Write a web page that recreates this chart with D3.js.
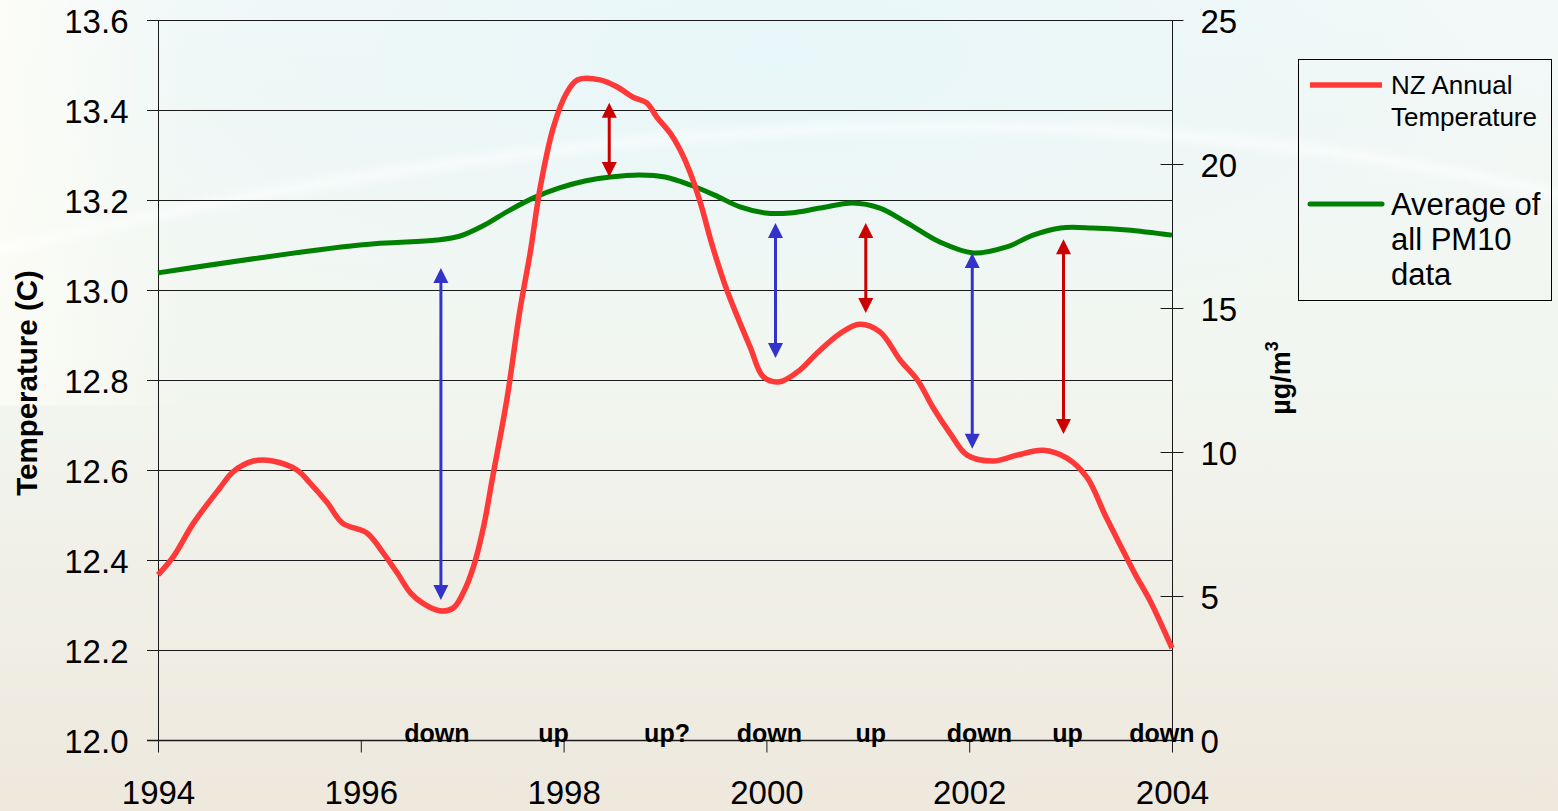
<!DOCTYPE html>
<html>
<head>
<meta charset="utf-8">
<script src="https://cdn.jsdelivr.net/npm/d3@7/dist/d3.min.js"></script>
<style>
  html, body { margin: 0; padding: 0; overflow: hidden; }
  svg { display: block; }
  text { font-family: "Liberation Sans", Arial, sans-serif; fill: #000; }
</style>
</head>
<body>
<svg id="chart" width="1558" height="811"></svg>
<script>
// NZ annual temperature (smoothed) against the average of all PM10 data
const tempYears = [1994.00, 1994.15, 1994.35, 1994.61, 1994.74, 1994.94, 1995.13, 1995.37, 1995.50, 1995.67,
  1995.82, 1996.06, 1996.22, 1996.36, 1996.49, 1996.61, 1996.78, 1996.91, 1997.01, 1997.11,
  1997.21, 1997.30, 1997.44, 1997.57, 1997.67, 1997.77, 1997.90, 1998.03, 1998.14, 1998.36,
  1998.53, 1998.68, 1998.82, 1998.92, 1999.05, 1999.15, 1999.25, 1999.35, 1999.47, 1999.61,
  1999.84, 1999.97, 2000.13, 2000.33, 2000.50, 2000.73, 2000.92, 2001.12, 2001.32, 2001.49,
  2001.64, 2001.81, 2001.98, 2002.24, 2002.47, 2002.73, 2002.96, 2003.16, 2003.34, 2003.49,
  2003.64, 2003.78, 2004.00];
const tempValues = [12.367, 12.407, 12.482, 12.560, 12.596, 12.620, 12.620, 12.600, 12.571, 12.527,
  12.482, 12.460, 12.416, 12.371, 12.327, 12.304, 12.287, 12.293, 12.327, 12.384,
  12.473, 12.584, 12.756, 12.956, 13.082, 13.229, 13.362, 13.438, 13.467, 13.467,
  13.451, 13.429, 13.416, 13.384, 13.349, 13.311, 13.260, 13.193, 13.096, 13.000,
  12.873, 12.807, 12.796, 12.822, 12.860, 12.904, 12.924, 12.907, 12.844, 12.800,
  12.740, 12.682, 12.633, 12.620, 12.633, 12.644, 12.627, 12.584, 12.500, 12.433,
  12.367, 12.311, 12.204];

const pmYears = [1994.00, 1995.99, 1996.75, 1996.98, 1997.22, 1997.47, 1997.72, 1997.96, 1998.21, 1998.46,
  1998.75, 1999.00, 1999.25, 1999.49, 1999.74, 1999.99, 2000.23, 2000.53, 2000.85, 2001.12,
  2001.39, 2001.71, 2002.04, 2002.37, 2002.63, 2002.90, 2003.22, 2003.56, 2004.00];
const pmValues = [16.22, 17.19, 17.36, 17.50, 17.88, 18.40, 18.85, 19.17, 19.41, 19.55,
  19.62, 19.55, 19.27, 18.92, 18.51, 18.30, 18.30, 18.47, 18.65, 18.47,
  17.95, 17.29, 16.91, 17.12, 17.53, 17.78, 17.78, 17.71, 17.53];

// Axis ticks
const yearTicks = [1994, 1996, 1998, 2000, 2002, 2004];
const tempTicks = [12.0, 12.2, 12.4, 12.6, 12.8, 13.0, 13.2, 13.4, 13.6];
const pmTicks = [0, 5, 10, 15, 20, 25];

// Trend annotations along the bottom
const noteLabels = ["down", "up", "up?", "down", "up", "down", "up", "down"];
const noteYears = [1996.75, 1997.90, 1999.02, 2000.03, 2001.03, 2002.10, 2002.97, 2003.90];

// Double-headed arrows (temperature scale), and their direction
const arrowYears = [1996.79, 1998.45, 2000.09, 2000.98, 2002.03, 2002.93];
const arrowTop = [13.049, 13.416, 13.149, 13.149, 13.082, 13.113];
const arrowBottom = [12.311, 13.251, 12.849, 12.949, 12.647, 12.680];
const arrowKind = ["down", "up", "down", "up", "down", "up"];

const legendLabels = [["NZ Annual", "Temperature"], ["Average of", "all PM10", "data"]];

const colours = { temp: "#ff3838", pm: "#008000", down: "#3333cc", up: "#cc0000", axis: "#1a1a1a" };

const svg = d3.select("#chart");
const W = 1558, H = 811;

// ---- background ----
const defs = svg.append("defs");
const bg = defs.append("linearGradient").attr("id", "bgGrad").attr("x1", 0).attr("y1", 0).attr("x2", 0).attr("y2", 1);
bg.append("stop").attr("offset", "0%").attr("stop-color", "#f4f9f8");
bg.append("stop").attr("offset", "45%").attr("stop-color", "#f2f6f0");
bg.append("stop").attr("offset", "100%").attr("stop-color", "#eee8dd");
const glow = defs.append("radialGradient").attr("id", "glow")
  .attr("cx", 0.5).attr("cy", 0.1).attr("r", 0.55);
glow.append("stop").attr("offset", "0%").attr("stop-color", "#e6f6f8").attr("stop-opacity", 0.9);
glow.append("stop").attr("offset", "100%").attr("stop-color", "#e6f6f8").attr("stop-opacity", 0);
const edge = defs.append("linearGradient").attr("id", "edgeGrad").attr("x1", 0).attr("y1", 0).attr("x2", 1).attr("y2", 0);
edge.append("stop").attr("offset", "0%").attr("stop-color", "#fffef8").attr("stop-opacity", 0.7);
edge.append("stop").attr("offset", "12%").attr("stop-color", "#fffef8").attr("stop-opacity", 0);
defs.append("filter").attr("id", "soft").append("feGaussianBlur").attr("stdDeviation", 4);

svg.append("rect").attr("width", W).attr("height", H).attr("fill", "url(#bgGrad)");
svg.append("rect").attr("width", W).attr("height", H * 0.7).attr("fill", "url(#glow)");
svg.append("rect").attr("width", W).attr("height", H * 0.5).attr("fill", "url(#edgeGrad)");
svg.append("path")
  .attr("d", "M-20,255 Q900,30 1580,200")
  .attr("fill", "none").attr("stroke", "#ffffff").attr("stroke-width", 10)
  .attr("stroke-opacity", 0.6).attr("filter", "url(#soft)");

// ---- scales ----
const x = d3.scaleLinear().domain([1994, 2004]).range([158, 1172]);
const yT = d3.scaleLinear().domain([12.0, 13.6]).range([740, 20]);
const yP = d3.scaleLinear().domain([0, 25]).range([740, 20]);
const crisp = v => Math.round(v) + 0.5;

// ---- gridlines ----
svg.append("g").selectAll("line").data(tempTicks.filter(t => t > 12.0)).join("line")
  .attr("x1", 147).attr("x2", 1172)
  .attr("y1", d => crisp(yT(d))).attr("y2", d => crisp(yT(d)))
  .attr("stroke", colours.axis).attr("stroke-width", 1);

// ---- left axis ----
const leftAxis = d3.axisLeft(yT).tickValues(tempTicks).tickSize(11).tickPadding(19)
  .tickFormat(d3.format(".1f"));
const gL = svg.append("g").attr("transform", "translate(158.5,0)").call(leftAxis);
gL.select(".domain").remove();
gL.append("line").attr("x1", 0).attr("x2", 0).attr("y1", 20).attr("y2", 752).attr("stroke", colours.axis);
gL.selectAll(".tick line").attr("stroke", colours.axis);
gL.selectAll(".tick text").attr("font-size", 33).attr("dy", null).attr("y", 12)
  .style("font-family", '"Liberation Sans", Arial, sans-serif').attr("fill", "#000");

// ---- right axis ----
const rightAxis = d3.axisRight(yP).tickValues(pmTicks).tickSize(11).tickPadding(17);
const gR = svg.append("g").attr("transform", "translate(1172.5,0)").call(rightAxis);
gR.select(".domain").remove();
gR.append("line").attr("x1", 0).attr("x2", 0).attr("y1", 20).attr("y2", 752).attr("stroke", colours.axis);
gR.selectAll(".tick line").attr("x1", -12).attr("stroke", colours.axis);
gR.selectAll(".tick text").attr("font-size", 33).attr("dy", null).attr("y", 12)
  .style("font-family", '"Liberation Sans", Arial, sans-serif').attr("fill", "#000");

// ---- bottom axis ----
const bottomAxis = d3.axisBottom(x).tickValues(yearTicks).tickSize(12).tickPadding(0)
  .tickFormat(d3.format("d"));
const gB = svg.append("g").attr("transform", "translate(0,740.5)").call(bottomAxis);
gB.select(".domain").remove();
gB.append("line").attr("x1", 147).attr("x2", 1172).attr("y1", 0).attr("y2", 0).attr("stroke", colours.axis).attr("stroke-width", 1.5);
gB.selectAll(".tick line").attr("stroke", colours.axis);
gB.selectAll(".tick text").attr("font-size", 33).attr("dy", null).attr("y", 63)
  .style("font-family", '"Liberation Sans", Arial, sans-serif').attr("fill", "#000");

// ---- axis titles ----
svg.append("text")
  .attr("transform", "translate(37,383) rotate(-90)")
  .attr("text-anchor", "middle").attr("font-size", 29.5).attr("font-weight", "bold")
  .text("Temperature (C)");
const unit = svg.append("text")
  .attr("transform", "translate(1290,378) rotate(-90)")
  .attr("text-anchor", "middle").attr("font-size", 27).attr("font-weight", "bold");
unit.append("tspan").text("µg/m");
unit.append("tspan").attr("font-size", 18).attr("dy", -12).text("3");

// ---- series ----
const tempLine = d3.line().x((d, i) => x(tempYears[i])).y(d => yT(d)).curve(d3.curveCatmullRom.alpha(0.5));
const pmLine = d3.line().x((d, i) => x(pmYears[i])).y(d => yP(d)).curve(d3.curveCatmullRom.alpha(0.5));

svg.append("path").datum(pmValues).attr("d", pmLine)
  .attr("fill", "none").attr("stroke", colours.pm).attr("stroke-width", 5).attr("stroke-linejoin", "round");
svg.append("path").datum(tempValues).attr("d", tempLine)
  .attr("fill", "none").attr("stroke", colours.temp).attr("stroke-width", 5.5).attr("stroke-linejoin", "round");

// ---- arrows ----
const head = 15, half = 7.5;
const ga = svg.append("g");
arrowYears.forEach((yr, i) => {
  const ax = x(yr), top = yT(arrowTop[i]), bot = yT(arrowBottom[i]);
  const c = colours[arrowKind[i]];
  ga.append("line").attr("x1", ax).attr("x2", ax).attr("y1", top + head - 1).attr("y2", bot - head + 1)
    .attr("stroke", c).attr("stroke-width", 3);
  ga.append("path").attr("d", `M${ax},${top} L${ax - half},${top + head} L${ax + half},${top + head} Z`).attr("fill", c);
  ga.append("path").attr("d", `M${ax},${bot} L${ax - half},${bot - head} L${ax + half},${bot - head} Z`).attr("fill", c);
});

// ---- trend labels ----
svg.append("g").selectAll("text").data(noteLabels).join("text")
  .attr("x", (d, i) => x(noteYears[i])).attr("y", 742)
  .attr("text-anchor", "middle").attr("font-size", 25).attr("font-weight", "bold")
  .text(d => d);

// ---- legend ----
const lg = svg.append("g");
lg.append("rect").attr("x", 1298.5).attr("y", 59.5).attr("width", 253).attr("height", 241)
  .attr("fill", "none").attr("stroke", "#000").attr("stroke-width", 1);
lg.append("line").attr("x1", 1310).attr("x2", 1382).attr("y1", 85).attr("y2", 85)
  .attr("stroke", colours.temp).attr("stroke-width", 5.5);
lg.append("line").attr("x1", 1310).attr("x2", 1382).attr("y1", 204).attr("y2", 204)
  .attr("stroke", colours.pm).attr("stroke-width", 5).attr("stroke-linecap", "round");
legendLabels[0].forEach((t, i) => {
  lg.append("text").attr("x", 1391).attr("y", 94 + i * 32).attr("font-size", 26).text(t);
});
legendLabels[1].forEach((t, i) => {
  lg.append("text").attr("x", 1391).attr("y", 215 + i * 35).attr("font-size", 31).text(t);
});
</script>
</body>
</html>
